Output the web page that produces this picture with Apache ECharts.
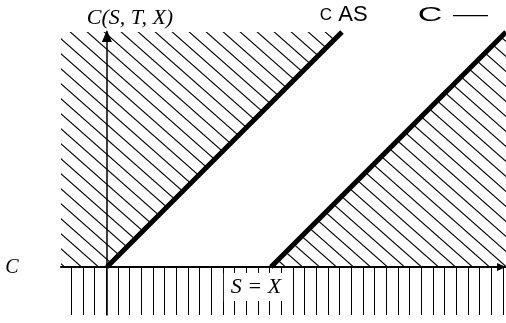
<!DOCTYPE html>
<html><head><meta charset="utf-8">
<script src="https://cdn.jsdelivr.net/npm/echarts@6/dist/echarts.min.js"></script>
<style>html,body{margin:0;padding:0;background:#fff}#c{width:506px;height:323px}</style>
</head><body><div id="c"></div>
<script>
// ---------- data (units: strike X = 100) ----------
const strikeX = 100;
const upperBoundS = [0, 143.3];          // C = S
const upperBoundC = [0, 143.3];
const lowerBoundS = [100, 243.3];        // C = max(S - X, 0)
const lowerBoundC = [0, 143.3];
const sAxisRange = [-28, 243.3];
const cAxisRange = [-29.3, 143.3];
const yAxisTitle = 'C(S, T, X)';
const leftLabel = 'C';
const strikeLabel = 'S = X';
const upperLabel = ['C', 'AS'];
const lowerLabel = ['C', '—'];

// ---------- hatch patterns ----------
function diagPattern() {
  const w = 17, h = 15;
  const c = document.createElement('canvas'); c.width = w; c.height = h;
  const g = c.getContext('2d');
  g.strokeStyle = '#000'; g.lineWidth = 1.15;
  for (let k = -1; k <= 1; k++) {
    g.beginPath();
    g.moveTo(-3, -3 * h / w + k * h);
    g.lineTo(w + 3, (w + 3) * h / w + k * h);
    g.stroke();
  }
  return c;
}
function vertPattern() {
  const w = 35, h = 4;
  const c = document.createElement('canvas'); c.width = w; c.height = h;
  const g = c.getContext('2d');
  g.fillStyle = '#000';
  [1, 13, 24].forEach(x => g.fillRect(x, 0, 1, h));
  return c;
}
const diag = { image: diagPattern(), repeat: 'repeat' };
const vert = { image: vertPattern(), repeat: 'repeat' };

// ---------- regions built from data ----------
const sMin = sAxisRange[0], sMax = sAxisRange[1], cMin = cAxisRange[0], cMax = cAxisRange[1];
const upperRegion = [[sMin, 0], [sMin, cMax], [upperBoundS[1], upperBoundC[1]], [upperBoundS[0], upperBoundC[0]]];
const lowerRegion = [[lowerBoundS[0], lowerBoundC[0]], [lowerBoundS[1], lowerBoundC[1]], [sMax, cMax], [sMax, 0]];
const belowRegion = [[sMin, 0], [sMax, 0], [sMax, cMin], [sMin, cMin]];

function regionSeries(points, fill) {
  return {
    type: 'custom', coordinateSystem: 'cartesian2d', data: [[0, 0]], clip: false, silent: true, z: 1,
    renderItem: (params, api) => ({
      type: 'polygon',
      shape: { points: points.map(p => api.coord(p)) },
      style: { fill: fill, stroke: null }
    })
  };
}

const chart = echarts.init(document.getElementById('c'), null, { renderer: 'canvas' });
chart.setOption({
  animation: false,
  backgroundColor: '#fff',
  grid: { left: 61, right: 0, top: 32, bottom: 8, containLabel: false },
  xAxis: {
    type: 'value', min: sMin, max: sMax,
    axisLine: { onZero: true, symbol: ['none', 'triangle'], symbolSize: [8, 9], symbolOffset: [0, -4.5],
      lineStyle: { color: '#000', width: 2 } },
    axisTick: { show: false }, axisLabel: { show: false }, splitLine: { show: false }
  },
  yAxis: {
    type: 'value', min: cMin, max: cMax,
    axisLine: { onZero: true, symbol: ['none', 'triangle'], symbolSize: [10, 12], symbolOffset: [0, -4],
      lineStyle: { color: '#000', width: 1.5 } },
    axisTick: { show: false }, axisLabel: { show: false }, splitLine: { show: false }
  },
  series: [
    regionSeries(upperRegion, diag),
    regionSeries(lowerRegion, diag),
    regionSeries(belowRegion, vert),
    { type: 'line', name: 'upper', data: upperBoundS.map((s, i) => [s, upperBoundC[i]]), symbol: 'none',
      lineStyle: { color: '#000', width: 5 }, z: 3, silent: true },
    { type: 'line', name: 'lower', data: lowerBoundS.map((s, i) => [s, lowerBoundC[i]]), symbol: 'none',
      lineStyle: { color: '#000', width: 5 }, z: 3, silent: true }
  ],
  graphic: [
    { type: 'text', x: 130, y: 18, z: 10, style: { text: yAxisTitle, font: 'italic 22px "Liberation Serif"', fill: '#000', align: 'center', verticalAlign: 'middle' } },
    { type: 'text', x: 12, y: 268, z: 10, style: { text: leftLabel, font: 'italic 20px "Liberation Serif"', fill: '#000', align: 'center', verticalAlign: 'middle' } },
    { type: 'text', x: 256, y: 287, z: 10, style: { text: strikeLabel, font: 'italic 22px "Liberation Serif"', fill: '#000', align: 'center', verticalAlign: 'middle', backgroundColor: '#fff', padding: [3, 7, 3, 7] } },
    { type: 'text', x: 326, y: 15, z: 10, style: { text: upperLabel[0], font: '17px "Liberation Sans"', fill: '#000', align: 'center', verticalAlign: 'middle' } },
    { type: 'text', x: 353, y: 15, z: 10, style: { text: upperLabel[1], font: '22px "Liberation Sans"', fill: '#000', align: 'center', verticalAlign: 'middle' } },
    { type: 'text', x: 430, y: 15, z: 10, scaleX: 1.7, style: { text: lowerLabel[0], font: '20px "Liberation Sans"', fill: '#000', align: 'center', verticalAlign: 'middle' } },
    { type: 'text', x: 470.5, y: 15, z: 10, scaleX: 1.75, style: { text: lowerLabel[1], font: '20px "Liberation Sans"', fill: '#000', align: 'center', verticalAlign: 'middle' } }
  ]
});
</script></body></html>
